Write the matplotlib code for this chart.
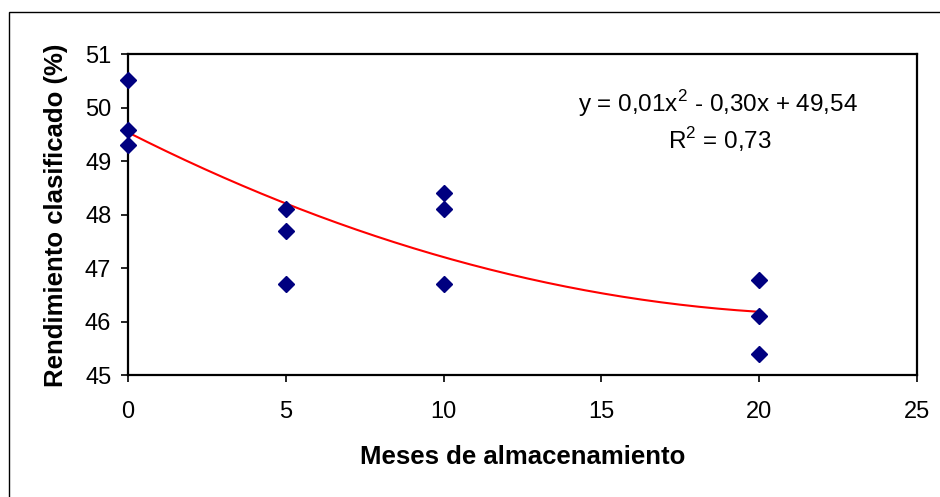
import numpy as np
import matplotlib
matplotlib.use("Agg")
import matplotlib.pyplot as plt
from matplotlib.patches import Rectangle

# Data
meses = [0, 0, 0, 5, 5, 5, 10, 10, 10, 20, 20, 20]
rendimiento = [50.52, 49.59, 49.31, 48.10, 47.69, 46.70,
               48.41, 48.11, 46.70, 46.78, 46.11, 45.39]
x_ticks = [0, 5, 10, 15, 20, 25]
y_ticks = [45, 46, 47, 48, 49, 50, 51]
eq_text = "y = 0,01x$^{2}$ - 0,30x + 49,54"
r2_text = "R$^{2}$ = 0,73"

plt.rcParams['font.family'] = ['Liberation Sans', 'DejaVu Sans']
plt.rcParams['mathtext.fontset'] = 'custom'
plt.rcParams['mathtext.rm'] = 'Liberation Sans'

W, H = 940, 497
fig = plt.figure(figsize=(W / 100, H / 100), dpi=100)

# outer chart-area border (cut by the image edges)
fig.patches.append(Rectangle((9 / W, -0.1), 1.2, 1 - 12 / H + 0.1,
                             transform=fig.transFigure, fill=False,
                             edgecolor='black', linewidth=1.0))

ax = fig.add_axes([128 / W, 1 - 375 / H, (917 - 128) / W, (375 - 54.3) / H])

coef = np.polyfit(meses, rendimiento, 2)
xs = np.linspace(0, 20, 200)
ax.plot(xs, np.polyval(coef, xs), color='#ff0000', linewidth=1.5, zorder=2)
ax.plot(meses, rendimiento, linestyle='none', marker='D', markersize=8.5,
        color='#000080', zorder=3, clip_on=False)

ax.set_xlim(0, 25)
ax.set_ylim(45, 51)
ax.set_xticks(x_ticks)
ax.set_yticks(y_ticks)
ax.tick_params(direction='out', length=5, width=1.2, labelsize=17,
               colors='black')
ax.tick_params(axis='y', pad=7)
ax.tick_params(axis='x', pad=14)
for s in ax.spines.values():
    s.set_linewidth(1.6)
    s.set_color('black')

fig.text(522.5 / W, 1 - 464 / H, "Meses de almacenamiento", fontsize=18.5,
         fontweight='bold', ha='center', va='baseline')
fig.text(63 / W, 1 - 215 / H, "Rendimiento clasificado (%)", fontsize=18.5,
         fontweight='bold', ha='center', va='baseline', rotation=90,
         rotation_mode='anchor')

ax.text(0.748, 0.821, eq_text, transform=ax.transAxes, ha='center',
        va='baseline', fontsize=17.5)
ax.text(0.750, 0.705, r2_text, transform=ax.transAxes, ha='center',
        va='baseline', fontsize=17.5)

fig.savefig("out.png", dpi=100)
